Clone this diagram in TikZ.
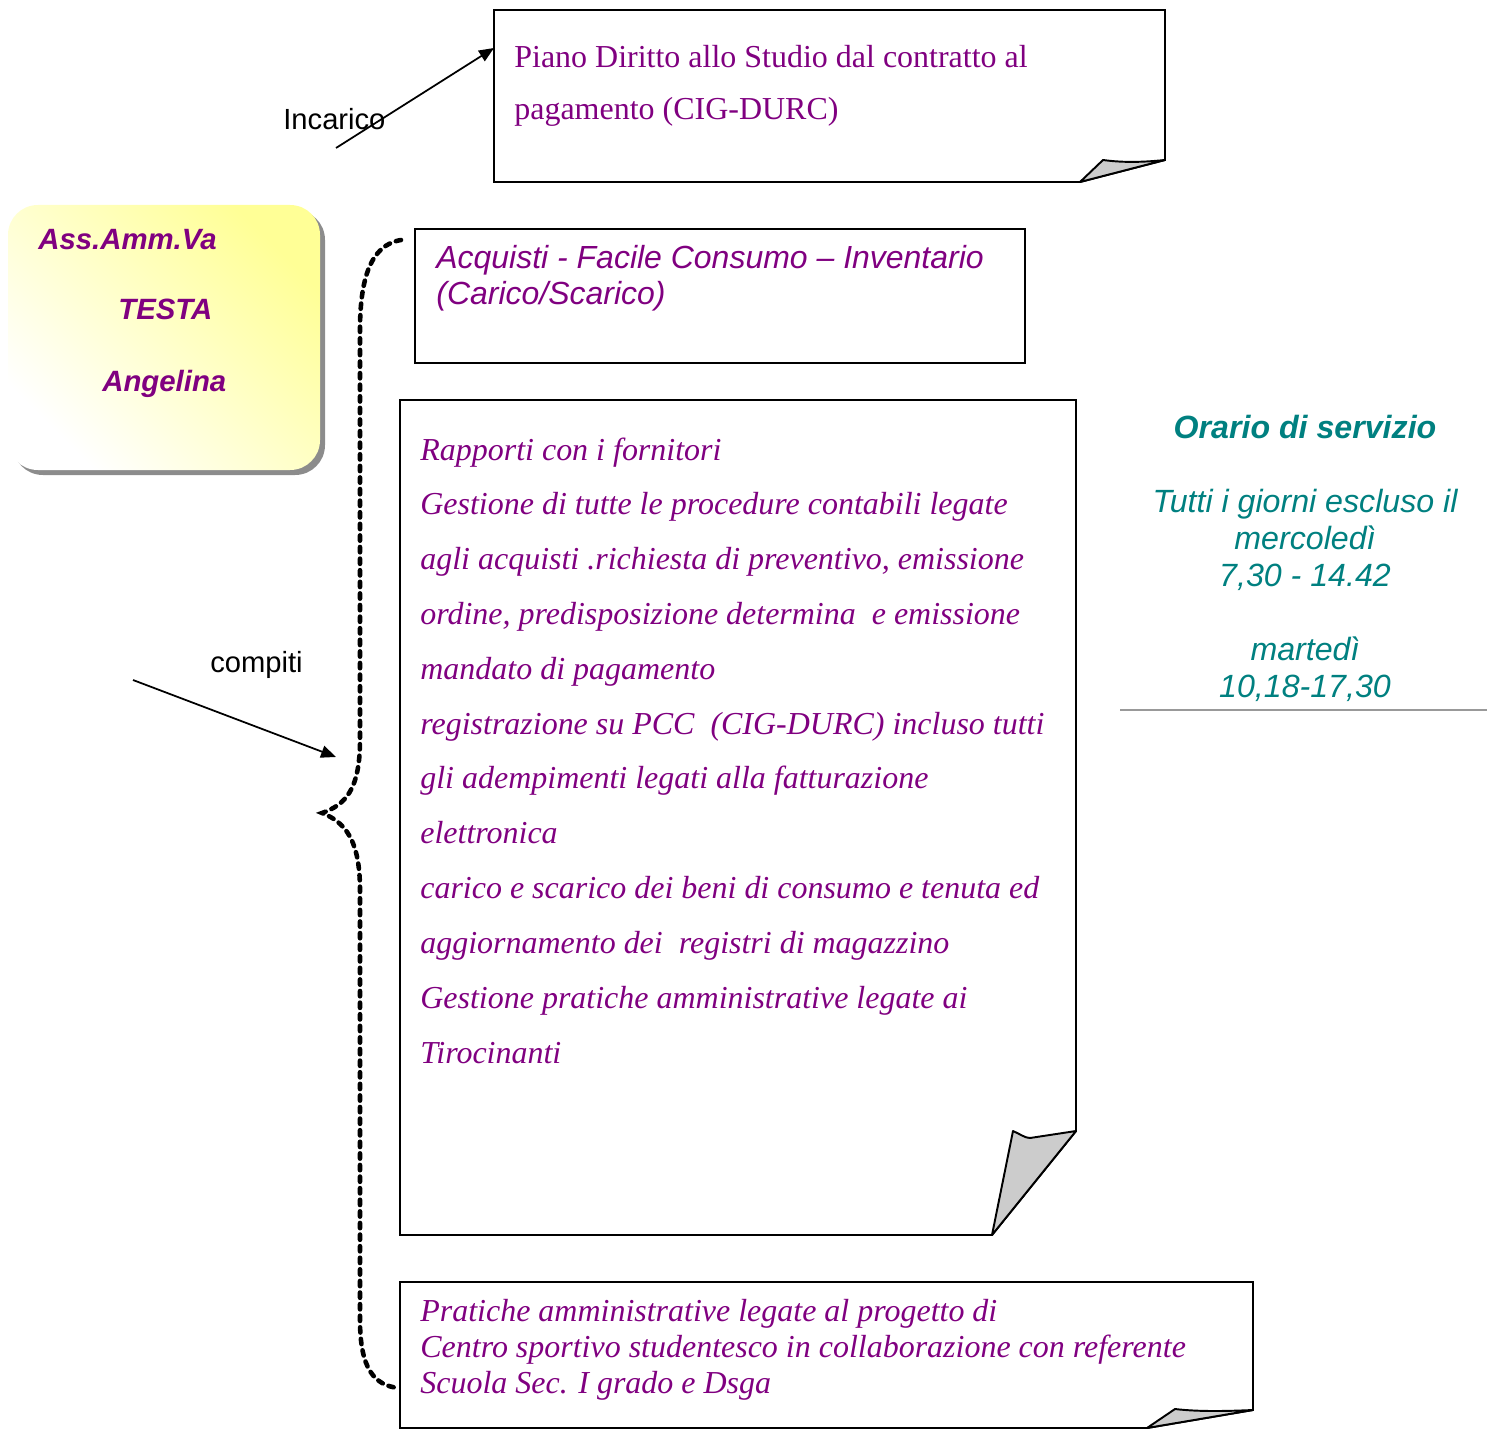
\documentclass[tikz,border=0pt]{standalone}
\usepackage{fontspec}
\setmainfont{Liberation Serif}
\setsansfont{Liberation Sans}
\usetikzlibrary{arrows.meta}
\definecolor{viola}{RGB}{128,0,128}
\definecolor{verdeacqua}{RGB}{0,128,128}
\definecolor{giallino}{RGB}{255,255,150}
\definecolor{grigiopiega}{RGB}{204,204,204}
\definecolor{ombra}{RGB}{140,140,140}

\begin{document}
\begin{tikzpicture}[x=0.02cm,y=-0.02cm,
    foglio/.style={draw=black, line width=1.1pt, line join=miter},
    angolo/.style={draw=black, fill=grigiopiega, line width=1.1pt, line join=round},
    graffa/.style={line width=2.6pt, line cap=round, dash pattern=on 3pt off 3.6pt},
    freccia/.style={-{Triangle[length=8.5pt,width=7pt]}, line width=1pt},
    etichetta/.style={anchor=base west, inner sep=0pt, font=\sffamily\fontsize{16.6}{20}\selectfont},
    nome/.style={anchor=base west, inner sep=0pt, text=viola, font=\sffamily\bfseries\itshape\fontsize{16.7}{20}\selectfont},
    testo/.style={anchor=base west, inner sep=0pt, align=left, text=viola, font=\itshape\fontsize{18.2}{31.2}\selectfont},
    orario/.style={anchor=base, inner sep=0pt, align=center, text=verdeacqua, font=\sffamily\itshape\fontsize{18.3}{21}\selectfont}]
\useasboundingbox (0,0) rectangle (1487,1439);

% scheda gialla
\fill[ombra, rounded corners=17pt] (13,210) rectangle (325,475);
\shade[rounded corners=17pt, top color=giallino, bottom color=white, shading angle=-45] (8,205) rectangle (320,470);
\node[nome] (ass) at (38,250) {Ass.Amm.Va};
\node[nome] (testa) at (118,320) {TESTA};
\node[nome] (angelina) at (102,392) {Angelina};

% incarico (base = ultima riga)
\draw[foglio] (1080,182) -- (494,182) -- (494,10) -- (1165,10) -- (1165,160) -- cycle;
\filldraw[angolo] (1080,182) -- (1103,160) .. controls (1125,163) and (1145,162) .. (1165,160) -- cycle;
\node[testo, font=\fontsize{18.2}{30}\selectfont] (piano) at (514,120) {Piano Diritto allo Studio dal contratto al\\pagamento (CIG-DURC)};
\node[etichetta] (incarico) at (283,130) {Incarico};
\coordinate (incarico-coda) at (336,148);
\coordinate (piano-punta) at (494,48);
\draw[freccia] (incarico-coda) -- (piano-punta);

% compiti
\draw[foglio] (415,229) rectangle (1025,363);
\node[testo, font=\sffamily\itshape\fontsize{18.2}{21}\selectfont] (acquisti) at (436,305) {Acquisti - Facile Consumo – Inventario\\(Carico/Scarico)};

\draw[foglio] (992,1235) -- (400,1235) -- (400,400) -- (1076,400) -- (1076,1131) -- cycle;
\filldraw[angolo] (992,1235) -- (1013,1131) .. controls (1020,1134) and (1025,1138) .. (1030,1138) -- (1076,1131) -- cycle;
\node[testo] (rapporti) at (420,1063) {Rapporti con i fornitori\\
  Gestione di tutte le procedure contabili legate\\
  agli acquisti .richiesta di preventivo, emissione\\
  ordine, predisposizione determina\ \ e emissione\\
  mandato di pagamento\\
  registrazione su PCC\ \ (CIG-DURC) incluso tutti\\
  gli adempimenti legati alla fatturazione\\
  elettronica\\
  carico e scarico dei beni di consumo e tenuta ed\\
  aggiornamento dei\ \ registri di magazzino\\
  Gestione pratiche amministrative legate ai\\
  Tirocinanti};

\draw[foglio] (1147,1428) -- (400,1428) -- (400,1282) -- (1253,1282) -- (1253,1410) -- cycle;
\filldraw[angolo] (1147,1428) -- (1175,1409) .. controls (1200,1412) and (1230,1411) .. (1253,1410) -- cycle;
\node[testo, font=\itshape\fontsize{18.2}{20.4}\selectfont] (pratiche) at (420,1393) {Pratiche amministrative legate al progetto di\\
  Centro sportivo studentesco in collaborazione con referente\\
  Scuola Sec. I grado e Dsga};

% graffa
\draw[graffa] (401,240) .. controls (370,245) and (360,280) .. (360,330) -- (360,740)
  .. controls (360,790) and (345,805) .. (322,813)
  .. controls (345,822) and (360,840) .. (360,890) -- (360,1320)
  .. controls (360,1370) and (375,1385) .. (398,1388);
\node[etichetta] (compiti) at (210,672) {compiti};
\coordinate (compiti-coda) at (133,680);
\coordinate (graffa-punta) at (336,757);
\draw[freccia] (compiti-coda) -- (graffa-punta);

% orario (base = ultima riga)
\node[orario] (orario) at (1305,697) {{\bfseries Orario di servizio}\\[21pt]
  Tutti i giorni escluso il\\ mercoledì\\ 7,30 - 14.42\\[21pt] martedì\\ 10,18-17,30};
\draw[line width=1.7pt, gray!80] (1120,710) -- (1487,710);
\end{tikzpicture}
\end{document}
